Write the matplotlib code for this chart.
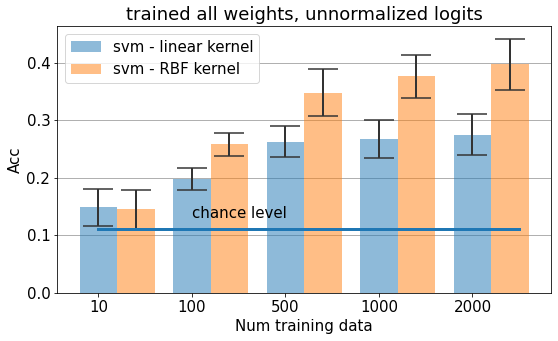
import matplotlib
matplotlib.use("Agg")
import matplotlib.pyplot as plt
import numpy as np

num_train = ["10", "100", "500", "1000", "2000"]
acc_linear = [0.149, 0.198, 0.263, 0.268, 0.275]
err_linear = [0.032, 0.019, 0.027, 0.033, 0.036]
acc_rbf = [0.145, 0.258, 0.348, 0.376, 0.397]
err_rbf = [0.034, 0.020, 0.041, 0.037, 0.044]
chance = 0.111


def plot_acc() -> None:
    x = np.arange(len(num_train))
    w = 0.4

    fig = plt.figure(figsize=(558 / 72, 341 / 72), dpi=72)
    ax = fig.add_axes([57.3 / 558, 48 / 341, 493.7 / 558, 266.7 / 341])
    ax.set_axisbelow(True)
    ax.grid(axis="y", color="#b0b0b0", linewidth=1)

    ax.bar(x, acc_linear, w, yerr=err_linear, alpha=0.5, color="C0",
           ecolor="#333333", capsize=15, error_kw={"elinewidth": 2, "capthick": 1.5},
           label="svm - linear kernel")
    ax.bar(x + w, acc_rbf, w, yerr=err_rbf, alpha=0.5, color="C1",
           ecolor="#333333", capsize=15, error_kw={"elinewidth": 2, "capthick": 1.5},
           label="svm - RBF kernel")
    ax.plot([0, 4.5], [chance, chance], color="C0", linewidth=3, zorder=5)
    ax.text(1, 0.13, "chance level", fontsize=15)

    ax.set_xticks(x)
    ax.set_xticklabels(num_train)
    ax.tick_params(labelsize=15)
    ax.set_xlabel("Num training data", fontsize=15)
    ax.set_ylabel("Acc", fontsize=15)
    ax.set_title("trained all weights, unnormalized logits", fontsize=18)
    ax.legend(loc="upper left", fontsize=15)

    fig.savefig("out.png", dpi=72)


if __name__ == "__main__":
    plot_acc()
